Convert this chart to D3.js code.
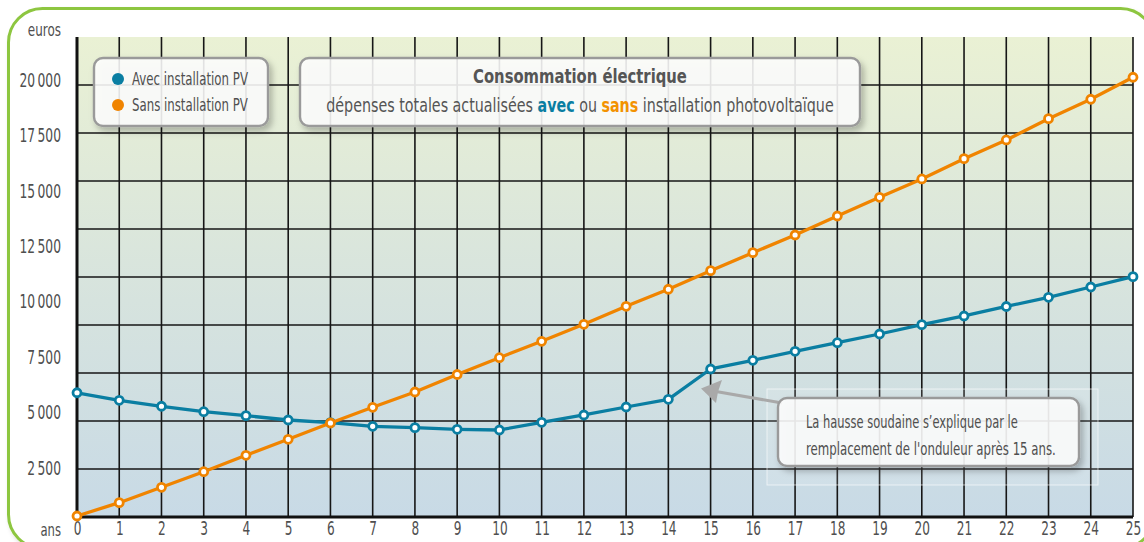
<!DOCTYPE html>
<html><head><meta charset="utf-8">
<script src="https://cdn.jsdelivr.net/npm/d3@7"></script>
<style>
html,body{margin:0;padding:0;background:#fff;}
svg{display:block;}
text{font-family:"Liberation Sans Narrow","DejaVu Sans Condensed","Roboto Condensed",Roboto,sans-serif;font-stretch:condensed;}
</style></head>
<body>
<script>
const years = d3.range(0, 26);
const avecPV = [5880,5540,5270,5025,4845,4650,4530,4366,4303,4231,4199,4547,4876,5237,5585,6953,7346,7752,8140,8533,8953,9346,9775,10190,10655,11120];
const sansPV = [316,917,1612,2316,3057,3779,4515,5224,5915,6705,7463,8204,8971,9784,10552,11391,12204,13003,13861,14705,15532,16448,17293,18255,19130,20124];
const yTicks = [2500,5000,7500,10000,12500,15000,17500,20000];
const seriesNames = ["Avec installation PV","Sans installation PV"];
const titleText = "Consommation électrique";
const noteLines = ["La hausse soudaine s\u2019explique par le","remplacement de l'onduleur après 15 ans."];

const W = 1144, H = 542;
const colTeal = "#0a7ea2", colOrange = "#f08400", txt = "#4f4f4f";
const plot = {left:77, right:1133, top:37, bottom:517};

const svg = d3.select("body").append("svg").attr("width", W).attr("height", H);
const defs = svg.append("defs");
const grad = defs.append("linearGradient").attr("id","bg").attr("x1",0).attr("y1",0).attr("x2",0).attr("y2",1);
grad.append("stop").attr("offset","0%").attr("stop-color","#eaf1d4");
grad.append("stop").attr("offset","55%").attr("stop-color","#d6e3de");
grad.append("stop").attr("offset","100%").attr("stop-color","#c8dae6");
const sh = defs.append("filter").attr("id","sh").attr("x","-10%").attr("y","-30%").attr("width","125%").attr("height","170%");
sh.append("feDropShadow").attr("dx",3).attr("dy",4).attr("stdDeviation",3).attr("flood-color","#000").attr("flood-opacity",0.28);
const sh2 = defs.append("filter").attr("id","sh2").attr("x","-5%").attr("y","-5%").attr("width","110%").attr("height","110%");
sh2.append("feDropShadow").attr("dx",2).attr("dy",3).attr("stdDeviation",2).attr("flood-color","#000").attr("flood-opacity",0.15);

function condense(sel, f){
  sel.each(function(){
    const t = d3.select(this);
    const ax = +(t.attr("x") || 0);
    t.attr("transform", `translate(${ax},0) scale(${f},1) translate(${-ax},0)`);
  });
}
function fitWidth(t, width){
  const w = t.node().getComputedTextLength();
  condense(t, width / w);
}

// outer green frame
svg.append("rect").attr("x",8.5).attr("y",8.5).attr("width",1146).attr("height",540).attr("rx",34)
  .attr("fill","#fff").attr("stroke","#8dc63f").attr("stroke-width",3).attr("filter","url(#sh2)");

const x = d3.scaleLinear().domain([0,25]).range([plot.left, plot.right]);
const y = d3.scaleLinear().domain([0,20000]).range([523, 80]);

svg.append("rect").attr("x",plot.left).attr("y",plot.top).attr("width",plot.right-plot.left).attr("height",plot.bottom-plot.top).attr("fill","url(#bg)");

// grid
const rowScale = d3.scaleLinear().domain([0,10]).range([plot.bottom, plot.top]);
const g = svg.append("g");
g.selectAll("line.h").data(d3.range(1,10)).join("line")
  .attr("x1",plot.left).attr("x2",plot.right).attr("y1",d=>rowScale(d)).attr("y2",d=>rowScale(d))
  .attr("stroke","#161616").attr("stroke-width",1.6);
g.selectAll("line.v").data(years.slice(1)).join("line")
  .attr("x1",d=>x(d)).attr("x2",d=>x(d)).attr("y1",plot.top).attr("y2",plot.bottom)
  .attr("stroke","#161616").attr("stroke-width",1.6);
svg.append("line").attr("x1",plot.left).attr("x2",plot.left).attr("y1",plot.top).attr("y2",plot.bottom+1.5).attr("stroke","#111").attr("stroke-width",3);
svg.append("line").attr("x1",plot.left-1.5).attr("x2",plot.right).attr("y1",plot.bottom).attr("y2",plot.bottom).attr("stroke","#111").attr("stroke-width",3);

// axis labels
const loc = d3.formatLocale({decimal:",", thousands:"\u2009", grouping:[3], currency:["","€"]});
const fmt = loc.format(",d");
const yAxis = svg.append("g").attr("transform",`translate(${plot.left},0)`)
  .call(d3.axisLeft(y).tickValues(yTicks).tickSize(0).tickPadding(16).tickFormat(fmt));
yAxis.select(".domain").remove();
yAxis.selectAll("text").attr("fill",txt).attr("font-size",19).attr("font-family",null).attr("dy","0.34em");
condense(yAxis.selectAll("text"), 0.72);
const xAxis = svg.append("g").attr("transform",`translate(0,${plot.bottom})`)
  .call(d3.axisBottom(x).tickValues(years).tickSize(0).tickPadding(5).tickFormat(d3.format("d")));
xAxis.select(".domain").remove();
xAxis.selectAll("text").attr("fill",txt).attr("font-size",19).attr("font-family",null);
condense(xAxis.selectAll("text"), 0.71);
const eu = svg.append("text").attr("x",61).attr("y",36).attr("text-anchor","end").attr("fill",txt).attr("font-size",18).text("euros");
condense(eu, 0.74);
const an = svg.append("text").attr("x",61).attr("y",536).attr("text-anchor","end").attr("fill",txt).attr("font-size",17.5).text("ans");
condense(an, 0.74);

// faint annotation backdrop
svg.append("rect").attr("x",767).attr("y",389).attr("width",331).attr("height",96)
  .attr("fill","#fff").attr("fill-opacity",0.12).attr("stroke","#fff").attr("stroke-opacity",0.6).attr("stroke-width",1);

// lines
const line = d3.line().x((d,i)=>x(years[i])).y(d=>y(d));
function drawSeries(vals, col){
  svg.append("path").datum(vals).attr("d",line).attr("fill","none").attr("stroke",col).attr("stroke-width",3.3).attr("stroke-linejoin","round");
  svg.append("g").selectAll("circle").data(vals).join("circle")
    .attr("cx",(d,i)=>x(years[i])).attr("cy",d=>y(d)).attr("r",4)
    .attr("fill","#fff").attr("stroke",col).attr("stroke-width",2.8);
}
drawSeries(avecPV, colTeal);
drawSeries(sansPV, colOrange);

// legend box
svg.append("rect").attr("x",94).attr("y",58).attr("width",174).attr("height",68).attr("rx",9)
  .attr("fill","#fff").attr("fill-opacity",0.86).attr("stroke","#9a9a9a").attr("stroke-width",2.4).attr("filter","url(#sh)");
const leg = svg.append("g");
[colTeal, colOrange].forEach((c,i)=>{
  leg.append("circle").attr("cx",118).attr("cy",79+i*26).attr("r",6).attr("fill",c);
  const t = leg.append("text").attr("x",132).attr("y",85+i*26).attr("fill",txt).attr("font-size",18).text(seriesNames[i]);
  fitWidth(t, 116);
});

// title box
svg.append("rect").attr("x",300).attr("y",58).attr("width",560).attr("height",68).attr("rx",9)
  .attr("fill","#fff").attr("fill-opacity",0.86).attr("stroke","#9a9a9a").attr("stroke-width",2.4).attr("filter","url(#sh)");
const tt = svg.append("text").attr("x",580).attr("y",83).attr("text-anchor","middle").attr("fill","#555").attr("font-size",20).attr("font-weight","bold").text(titleText);
fitWidth(tt, 214);
const sub = svg.append("text").attr("x",580).attr("y",112).attr("text-anchor","middle").attr("fill","#555").attr("font-size",19.5);
sub.append("tspan").text("dépenses totales actualisées ");
sub.append("tspan").attr("fill",colTeal).attr("font-weight","bold").text("avec");
sub.append("tspan").text(" ou ");
sub.append("tspan").attr("fill","#f39200").attr("font-weight","bold").text("sans");
sub.append("tspan").text(" installation photovoltaïque");
fitWidth(sub, 508);

// annotation arrow
svg.append("line").attr("x1",782).attr("y1",403).attr("x2",716).attr("y2",391.5).attr("stroke","#a9a9a9").attr("stroke-width",3);
svg.append("path").attr("d","M701,388.5 L722,380 L718,391.8 L716,403 Z").attr("fill","#a9a9a9");

// annotation box
svg.append("rect").attr("x",778).attr("y",398).attr("width",301).attr("height",68).attr("rx",9)
  .attr("fill","#fff").attr("fill-opacity",0.86).attr("stroke","#9a9a9a").attr("stroke-width",2.4).attr("filter","url(#sh)");
const n1 = svg.append("text").attr("x",806).attr("y",428).attr("fill",txt).attr("font-size",17.5).text(noteLines[0]);
fitWidth(n1, 212);
const n2 = svg.append("text").attr("x",806).attr("y",455).attr("fill",txt).attr("font-size",17.5).text(noteLines[1]);
fitWidth(n2, 250);
</script>
</body></html>
